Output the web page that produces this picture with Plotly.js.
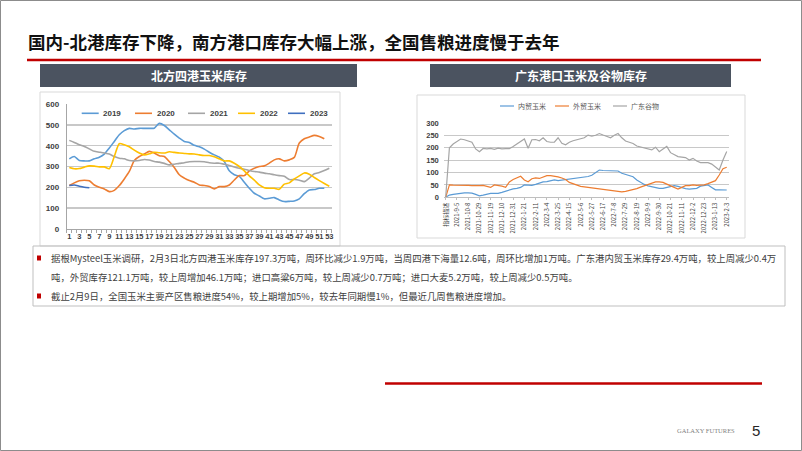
<!DOCTYPE html>
<html><head><meta charset="utf-8">
<script src="https://cdn.plot.ly/plotly-3.0.1.min.js"></script>
<style>html,body{margin:0;padding:0;background:#fff}#chart{width:802px;height:451px}</style>
</head><body><div id="chart"></div>
<script>
// ---------- Data: 北方四港玉米库存 (万吨) ----------
const weeks = [1,2,3,4,5,6,7,8,9,10,11,12,13,14,15,16,17,18,19,20,21,22,23,24,25,26,27,28,29,30,31,32,33,34,35,36,37,38,39,40,41,42,43,44,45,46,47,48,49,50,51,52,53];
const weekTicks = [1,3,5,7,9,11,13,15,17,19,21,23,25,27,29,31,33,35,37,39,41,43,45,47,49,51,53];
const yearNames = ['2019','2020','2021','2022','2023'];
const s2019 = [337,348,329,327,327,337,345,360,389,421,453,473,484,481,484,484,484,485,508,498,477,456,437,421,416,402,395,384,369,356,345,324,279,260,252,224,195,171,158,144,147,150,139,131,132,134,144,169,187,189,195,195];
const s2020 = [208,221,231,234,231,211,200,192,179,185,208,240,276,329,348,360,373,365,352,348,324,295,260,244,232,224,211,208,203,192,203,203,211,235,256,256,279,292,300,303,316,332,337,327,332,344,413,434,442,450,445,434];
const s2021 = [426,416,405,397,385,373,369,365,360,348,340,337,329,327,329,334,331,324,321,315,308,311,315,318,323,324,324,323,318,316,316,311,305,298,292,287,281,276,273,268,265,260,256,253,237,237,234,227,244,265,271,281,292];
const s2022 = [295,289,290,297,303,302,298,298,289,348,410,405,395,379,365,356,361,369,366,365,371,368,365,363,361,360,356,353,353,347,337,327,327,316,300,279,255,234,211,198,195,195,190,215,221,240,255,269,263,247,232,218,205];
const s2023 = [208,211,205,200,197.3];

// ---------- Data: 广东港口玉米及谷物库存 (万吨) ----------
const gdNames = ['内贸玉米','外贸玉米','广东谷物'];
const gdLabels = ['指标描述','2021-9-5','2021-10-8','2021-10-29','2021-11-19','2021-12-10','2021-12-31','2022-1-21','2022-2-11','2022-3-4','2022-3-25','2022-4-15','2022-5-6','2022-5-27','2022-6-17','2022-7-8','2022-7-29','2022-8-19','2022-9-9','2022-9-30','2022-10-21','2022-11-11','2022-12-2','2022-12-23','2023-1-13','2023-2-3'];
const gdDomestic = [0,9,12,15,18,18,18,17,12,6,9,14,16,16,16,20,25,30,34,36,40,50,48,48,52,58,62,63,66,70,67,69,71,73,76,76,77,79,84,89,100,110,108,107,108,108,106,97,93,88,83,70,60,52,46,43,38,36,36,40,45,47,44,38,35,33,34,36,45,48,50,40,30,30,31,29.4];
const gdForeign = [0,50,49,48,48,49,48,47,46,47,48,45,40,50,48,45,40,62,72,80,85,70,63,75,78,76,82,87,87,86,82,78,72,60,55,48,44,42,40,38,36,35,33,31,29,27,24,22,24,27,29,35,41,47,52,56,62,62,60,53,46,38,33,40,47,47,50,48,48,50,55,60,67,90,115,121.1];
const gdGrain = [0,200,215,225,235,232,228,222,195,184,197,195,197,193,198,195,196,196,205,215,225,235,198,232,233,228,240,225,222,222,240,218,212,222,228,231,235,240,251,247,250,257,251,245,240,250,257,240,227,222,217,207,203,200,198,191,202,184,195,205,180,172,164,162,160,150,157,146,140,140,140,134,120,110,150,185];

// ---------- Texts ----------
const slideTitle = '国内-北港库存下降，南方港口库存大幅上涨，全国售粮进度慢于去年';
const leftTitle = '北方四港玉米库存';
const rightTitle = '广东港口玉米及谷物库存';
const bodyLines = [
  '据根Mysteel玉米调研，2月3日北方四港玉米库存197.3万吨，周环比减少1.9万吨，当周四港下海量12.6吨，周环比增加1万吨。广东港内贸玉米库存29.4万吨，较上周减少0.4万',
  '吨，外贸库存121.1万吨，较上周增加46.1万吨；进口高粱6万吨，较上周减少0.7万吨；进口大麦5.2万吨，较上周减少0.5万吨。',
  '截止2月9日，全国玉米主要产区售粮进度54%，较上期增加5%，较去年同期慢1%，但最近几周售粮进度增加。'
];

// ---------- helpers ----------
const W = 802, H = 451;
const px = x => x / W;
const py = y => 1 - y / H;
const gdIdx = gdDomestic.map((_, i) => i);
const gdTickIdx = gdLabels.map((_, i) => i * 3);

const yearColors = ['#5B9BD5', '#ED7D31', '#A5A5A5', '#FFC000', '#3F6FBF'];
const gdColors = ['#5B9BD5', '#ED7D31', '#A5A5A5'];
const yearSeries = [s2019, s2020, s2021, s2022, s2023];
const gdSeries = [gdDomestic, gdForeign, gdGrain];

const traces = [];
yearSeries.forEach((s, k) => traces.push({
  x: weeks.slice(0, s.length), y: s, name: yearNames[k], type: 'scatter', mode: 'lines', showlegend: false,
  line: {color: yearColors[k], width: 1.6, shape: 'spline', smoothing: 0.7}
}));
gdSeries.forEach((s, k) => traces.push({
  x: gdIdx, y: s, name: gdNames[k], type: 'scatter', mode: 'lines', xaxis: 'x2', yaxis: 'y2', showlegend: false,
  line: {color: gdColors[k], width: 1.2}
}));

const cjk = '"Noto Sans CJK SC", "Noto Sans", sans-serif';
const sans = '"Liberation Sans", Arial, sans-serif';
const rectP = (x0, y0, x1, y1, fill, lc, lw) => ({type: 'rect', xref: 'paper', yref: 'paper', x0: px(x0), x1: px(x1), y0: py(y0), y1: py(y1),
  fillcolor: fill || 'rgba(0,0,0,0)', line: {color: lc || 'rgba(0,0,0,0)', width: lw || 0}});
const lineP = (x0, y0, x1, y1, c, w) => ({type: 'line', xref: 'paper', yref: 'paper', x0: px(x0), x1: px(x1), y0: py(y0), y1: py(y1), line: {color: c, width: w}});

const shapes = [
  rectP(0.5, 0.5, 801.5, 450.5, null, '#8C8C8C', 1),
  lineP(27, 60, 761, 60, '#C00000', 2.5),
  rectP(40, 64, 357, 87, '#4B5360'),
  rectP(430, 64, 731, 87, '#4B5360'),
  rectP(40, 92, 340, 246, null, '#D9D9D9', 1),
  rectP(417, 95, 745, 238, null, '#D9D9D9', 1),
  rectP(33, 246, 785, 306, null, '#BFBFBF', 1),
  rectP(37, 255.5, 41, 260.5, '#C00000'),
  rectP(37, 293.5, 41, 298.5, '#C00000'),
  lineP(385, 383.5, 762, 383.5, '#C00000', 2.5)
];

const ann = (text, x, y, font, opts) => Object.assign({
  text, x: px(x), y: py(y), xref: 'paper', yref: 'paper', showarrow: false,
  xanchor: 'left', yanchor: 'middle', font
}, opts || {});

const annotations = [
  ann('<b>' + slideTitle + '</b>', 26, 41, {family: cjk, size: 17.5, color: '#111111'}),
  ann('<b>' + leftTitle + '</b>', 198.5, 75.5, {family: cjk, size: 12, color: '#FFFFFF'}, {xanchor: 'center'}),
  ann('<b>' + rightTitle + '</b>', 580.5, 75.5, {family: cjk, size: 12, color: '#FFFFFF'}, {xanchor: 'center'}),
  ann(bodyLines[0], 49, 258, {family: cjk, size: 9.4, color: '#404040'}),
  ann(bodyLines[1], 49, 277, {family: cjk, size: 9.4, color: '#404040'}),
  ann(bodyLines[2], 49, 296, {family: cjk, size: 9.4, color: '#404040'}),
  ann('GALAXY FUTURES', 706, 430, {family: '"Liberation Serif", serif', size: 6.5, color: '#7F7F7F'}, {xanchor: 'center'}),
  ann('5', 756, 430, {family: sans, size: 15, color: '#262626'}, {xanchor: 'center'})
];

// legend of the left chart (drawn as shapes + texts)
const legL = [81.7, 135, 188, 238, 288];
yearNames.forEach((n, k) => {
  shapes.push(lineP(legL[k], 113.3, legL[k] + 17, 113.3, yearColors[k], 1.6));
  annotations.push(ann('<b>' + n + '</b>', legL[k] + 19.5, 113.3, {family: sans, size: 8, color: '#404040'}));
});
// legend of the right chart
const legR = [500, 555, 613];
gdNames.forEach((n, k) => {
  shapes.push(lineP(legR[k], 106, legR[k] + 14, 106, gdColors[k], 1.2));
  annotations.push(ann(n, legR[k] + 16, 106, {family: cjk, size: 7, color: '#595959'}));
});

const axFont = {family: sans, size: 7.5, color: '#404040', weight: 'bold'};
const layout = {
  width: W, height: H, margin: {l: 0, r: 0, t: 0, b: 0},
  paper_bgcolor: '#FFFFFF', plot_bgcolor: 'rgba(0,0,0,0)',
  showlegend: false,
  xaxis: {domain: [px(66.8), px(331.8)], range: [0.5, 53.5], tickmode: 'array', tickvals: weekTicks, ticktext: weekTicks.map(String),
    tickfont: axFont, tickangle: 0, showgrid: false, zeroline: false, showline: true, linecolor: '#A6A6A6', linewidth: 1,
    ticks: '', minor: {tickmode: 'linear', tick0: 0.5, dtick: 1, ticks: 'outside', ticklen: 3, tickcolor: '#A6A6A6', showgrid: false}, fixedrange: true},
  yaxis: {domain: [py(228.7), py(104.3)], range: [0, 600], dtick: 100, tickfont: Object.assign({}, axFont, {size: 8}),
    gridcolor: '#C8C8C8', gridwidth: 1.3, zeroline: false, showline: true, linecolor: '#A6A6A6', linewidth: 1, ticks: '', ticklabelstandoff: 5, fixedrange: true},
  xaxis2: {domain: [px(443.8), px(728.6)], range: [-0.5, 75.5], anchor: 'y2', tickmode: 'array', tickvals: gdTickIdx, ticktext: gdLabels,
    tickangle: -90, tickfont: {family: cjk, size: 6, color: '#404040'}, showgrid: false, zeroline: false, showline: true, linecolor: '#BFBFBF', linewidth: 1,
    ticks: 'outside', ticklen: 2, tickcolor: '#BFBFBF', fixedrange: true},
  yaxis2: {domain: [py(197.3), py(122.9)], range: [0, 300], dtick: 50, anchor: 'x2', tickmode: 'linear', tick0: 0, showticklabels: true,
    tickfont: {family: sans, size: 7.5, color: '#404040', weight: 'bold'},
    gridcolor: '#C8C8C8', gridwidth: 1, zeroline: false, showline: false, ticks: '', ticklabelstandoff: 4, fixedrange: true},
  shapes, annotations
};

Plotly.newPlot('chart', traces, layout, {displayModeBar: false, staticPlot: true});
</script>
</body></html>
